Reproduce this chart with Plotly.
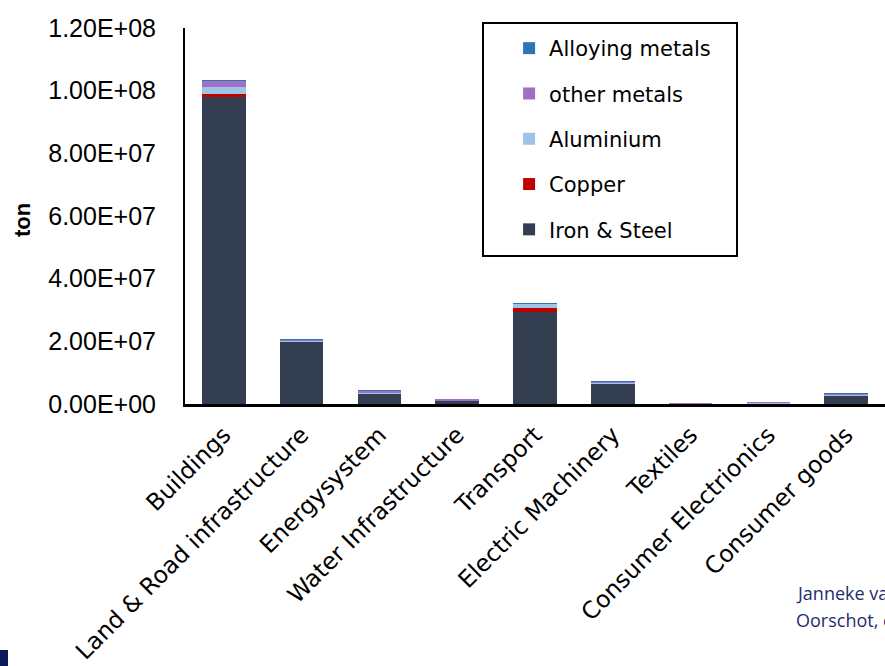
import plotly.graph_objects as go

# Sectors on the x axis
sectors = ["Buildings", "Land & Road infrastructure", "Energysystem",
           "Water Infrastructure", "Transport", "Electric Machinery",
           "Textiles", "Consumer Electrionics", "Consumer goods"]

# Metal stock per sector, in ton
iron_steel = [98.0e6, 20.0e6, 3.3e6, 1.2e6, 29.3e6, 6.5e6, 0.1e6, 0.2e6, 2.6e6]
copper     = [0.8e6, 0.1e6, 0.2e6, 0.02e6, 1.4e6, 0.1e6, 0.0, 0.1e6, 0.1e6]
aluminium  = [2.3e6, 0.1e6, 0.3e6, 0.03e6, 1.3e6, 0.2e6, 0.02e6, 0.1e6, 0.2e6]
other      = [2.0e6, 0.4e6, 0.4e6, 0.05e6, 0.2e6, 0.5e6, 0.2e6, 0.1e6, 0.3e6]
alloying   = [0.03e6, 0.01e6, 0.01e6, 0.0, 0.02e6, 0.01e6, 0.0, 0.0, 0.01e6]

y_ticks = [0, 2e7, 4e7, 6e7, 8e7, 1e8, 1.2e8]
y_tick_text = ["0.00E+00", "2.00E+07", "4.00E+07", "6.00E+07",
               "8.00E+07", "1.00E+08", "1.20E+08"]

# (name, values, colour, position in legend from the top)
series = [
    ("Iron & Steel", iron_steel, "#333f50", 5),
    ("Copper", copper, "#c00000", 4),
    ("Aluminium", aluminium, "#9dc3e6", 3),
    ("other metals", other, "#a070c8", 2),
    ("Alloying metals", alloying, "#2e75b6", 1),
]

LABEL_FONT = "DejaVu Sans, sans-serif"
NUM_FONT = "Liberation Sans, Arial, sans-serif"
CREDIT = dict(size=18, color="#1f2d6e", family="Open Sans, sans-serif")

fig = go.Figure()
for name, vals, col, rank in series:
    fig.add_trace(go.Bar(
        x=sectors, y=vals, name=name, legendgroup=name, legendrank=rank,
        marker=dict(color=col, line=dict(width=0)),
    ))

fig.update_layout(
    width=885, height=666,
    margin=dict(l=185, r=0, t=28, b=262),
    barmode="stack", bargap=0.44,
    plot_bgcolor="white", paper_bgcolor="white",
    font=dict(family=LABEL_FONT, color="black"),
    showlegend=True,
    legend=dict(
        x=0.463, y=1.0, xanchor="left", yanchor="top",
        traceorder="grouped", tracegroupgap=15,
        font=dict(size=21, family=LABEL_FONT),
        bgcolor="rgba(0,0,0,0)", borderwidth=0,
    ),
    xaxis=dict(
        tickangle=-45, showline=True, linecolor="black", linewidth=2.5,
        ticks="", tickfont=dict(size=23.5, family=LABEL_FONT),
        range=[-0.5, 8.5], ticklabelstandoff=5,
    ),
    yaxis=dict(
        range=[0, 1.2e8], tickvals=y_ticks, ticktext=y_tick_text,
        showline=True, linecolor="black", linewidth=2, showgrid=False,
        zeroline=False, ticks="", ticklabelstandoff=22,
        tickfont=dict(size=25, family=NUM_FONT),
    ),
    shapes=[
        # legend frame
        dict(type="rect", xref="paper", yref="paper",
             x0=(483 - 185) / 700, x1=(737 - 185) / 700,
             y0=(404 - 256) / 376, y1=(404 - 23) / 376,
             line=dict(color="black", width=2), fillcolor="rgba(0,0,0,0)"),
        # slide accent block
        dict(type="rect", xref="paper", yref="paper",
             x0=-185 / 700, x1=(8 - 185) / 700,
             y0=(404 - 666) / 376, y1=(404 - 650) / 376,
             line=dict(width=0), fillcolor="#0c1a5a"),
    ],
    annotations=[
        dict(text="<b>ton</b>", xref="paper", yref="paper",
             x=(22 - 185) / 700, y=(404 - 220) / 376, xanchor="center", yanchor="middle",
             textangle=-90, showarrow=False,
             font=dict(size=22, family=NUM_FONT, color="black")),
        dict(text="Janneke van", xref="paper", yref="paper",
             x=(794 - 185) / 700, y=(404 - 593) / 376, xanchor="left", yanchor="middle",
             align="left", showarrow=False, font=CREDIT),
        dict(text="Oorschot, et al.", xref="paper", yref="paper",
             x=(794 - 185) / 700, y=(404 - 620) / 376, xanchor="left", yanchor="middle",
             align="left", showarrow=False, font=CREDIT),
    ],
)

fig.write_html("out.html")
